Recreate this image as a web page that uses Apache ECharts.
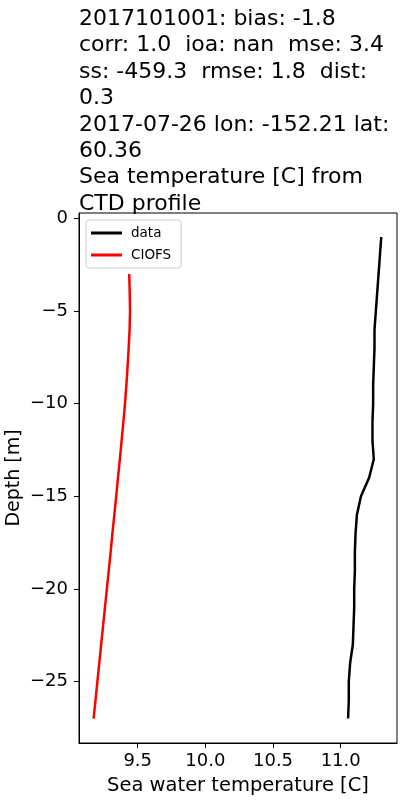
<!DOCTYPE html>
<html>
<head>
<meta charset="utf-8">
<script src="https://cdn.jsdelivr.net/npm/echarts@6/dist/echarts.min.js"></script>
<style>
  html, body { margin: 0; padding: 0; background: #fff; }
  #chart { width: 400px; height: 800px; }
</style>
</head>
<body>
<div id="chart"></div>
<script>
// depth [m] and temperature [C]
const dataDepth = [-1, -2, -3, -4, -5, -6, -7, -8, -9, -10, -11, -12, -13, -14,
  -15, -16, -17, -18, -19, -20, -21, -22, -23, -24, -25, -26, -27]
const dataTemp = [11.30, 11.29, 11.28, 11.27, 11.26, 11.25, 11.25, 11.245, 11.24, 11.24,
  11.235, 11.235, 11.245, 11.21, 11.15, 11.12, 11.11, 11.105, 11.105, 11.10, 11.10,
  11.095, 11.09, 11.07, 11.06, 11.06, 11.055]

const modelDepth = [-3, -4, -5, -6, -7, -8, -9, -10, -11, -12, -13, -14, -15,
  -16, -17, -18, -19, -20, -21, -22, -23, -24, -25, -26, -27]
const modelTemp = [9.437, 9.441, 9.443, 9.440, 9.433, 9.425, 9.416, 9.406, 9.394, 9.381,
  9.368, 9.354, 9.341, 9.327, 9.313, 9.300, 9.286, 9.272, 9.258, 9.244, 9.230,
  9.216, 9.202, 9.188, 9.174]

const xTicks = [9.5, 10.0, 10.5, 11.0]
const yTicks = [0, -5, -10, -15, -20, -25]

const titleLines = [
  '2017101001: bias: -1.8',
  'corr: 1.0  ioa: nan  mse: 3.4',
  'ss: -459.3  rmse: 1.8  dist:',
  '0.3',
  '2017-07-26 lon: -152.21 lat:',
  '60.36',
  'Sea temperature [C] from',
  'CTD profile'
]

const font = 'DejaVu Sans'
const chart = echarts.init(document.getElementById('chart'))

const option = {
  animation: false,
  textStyle: { fontFamily: font },
  title: {
    text: titleLines.join('\n'),
    left: 74,
    top: 1,
    textStyle: { fontFamily: font, fontSize: 22, fontWeight: 'normal', color: '#000', lineHeight: 26.4 }
  },
  legend: {
    orient: 'vertical',
    left: 86,
    top: 220,
    padding: [6, 10, 6, 5],
    itemGap: 8,
    itemWidth: 31,
    itemHeight: 3,
    icon: 'rect',
    borderColor: '#cccccc',
    borderWidth: 1,
    borderRadius: 3,
    backgroundColor: '#fff',
    textStyle: { fontFamily: font, fontSize: 13.5, color: '#000', padding: [0, 0, 0, 4] },
    data: ['data', 'CIOFS']
  },
  grid: {
    left: 79, right: 3, top: 213, bottom: 57,
    outerBoundsMode: 'none',
    show: true, borderColor: '#000', borderWidth: 1, containLabel: false
  },
  xAxis: {
    type: 'value',
    min: 9.066,
    max: 9.066 + 318 / 135.3,
    name: 'Sea water temperature [C]',
    nameLocation: 'middle',
    nameGap: 33,
    nameMoveOverlap: false,
    nameTextStyle: { fontFamily: font, fontSize: 19.5, color: '#000' },
    axisLine: { show: true, onZero: false, lineStyle: { color: '#000', width: 1 } },
    axisTick: { show: true, customValues: xTicks, length: 5, lineStyle: { color: '#000' } },
    axisLabel: {
      customValues: xTicks, margin: 9, fontSize: 18, color: '#000', fontFamily: font,
      formatter: v => v.toFixed(1)
    },
    splitLine: { show: false }
  },
  yAxis: {
    type: 'value',
    min: -(743 - 218.5) / 18.52,
    max: (218.5 - 213) / 18.52,
    name: 'Depth [m]',
    nameLocation: 'middle',
    nameRotate: 90,
    nameGap: 55,
    nameMoveOverlap: false,
    nameTextStyle: { fontFamily: font, fontSize: 19, color: '#000' },
    axisLine: { show: true, onZero: false, lineStyle: { color: '#000', width: 1 } },
    axisTick: { show: true, customValues: yTicks, length: 5, lineStyle: { color: '#000' } },
    axisLabel: {
      customValues: yTicks, margin: 11, fontSize: 18, color: '#000', fontFamily: font,
      formatter: v => String(v).replace('-', '\u2212')
    },
    splitLine: { show: false }
  },
  series: [
    {
      name: 'data',
      type: 'line',
      showSymbol: false,
      color: '#000',
      lineStyle: { color: '#000', width: 2.5 },
      data: dataTemp.map((t, i) => [t, dataDepth[i]])
    },
    {
      name: 'CIOFS',
      type: 'line',
      showSymbol: false,
      color: '#ff0000',
      lineStyle: { color: '#ff0000', width: 2.5 },
      data: modelTemp.map((t, i) => [t, modelDepth[i]])
    }
  ]
}

chart.setOption(option)
</script>
</body>
</html>
